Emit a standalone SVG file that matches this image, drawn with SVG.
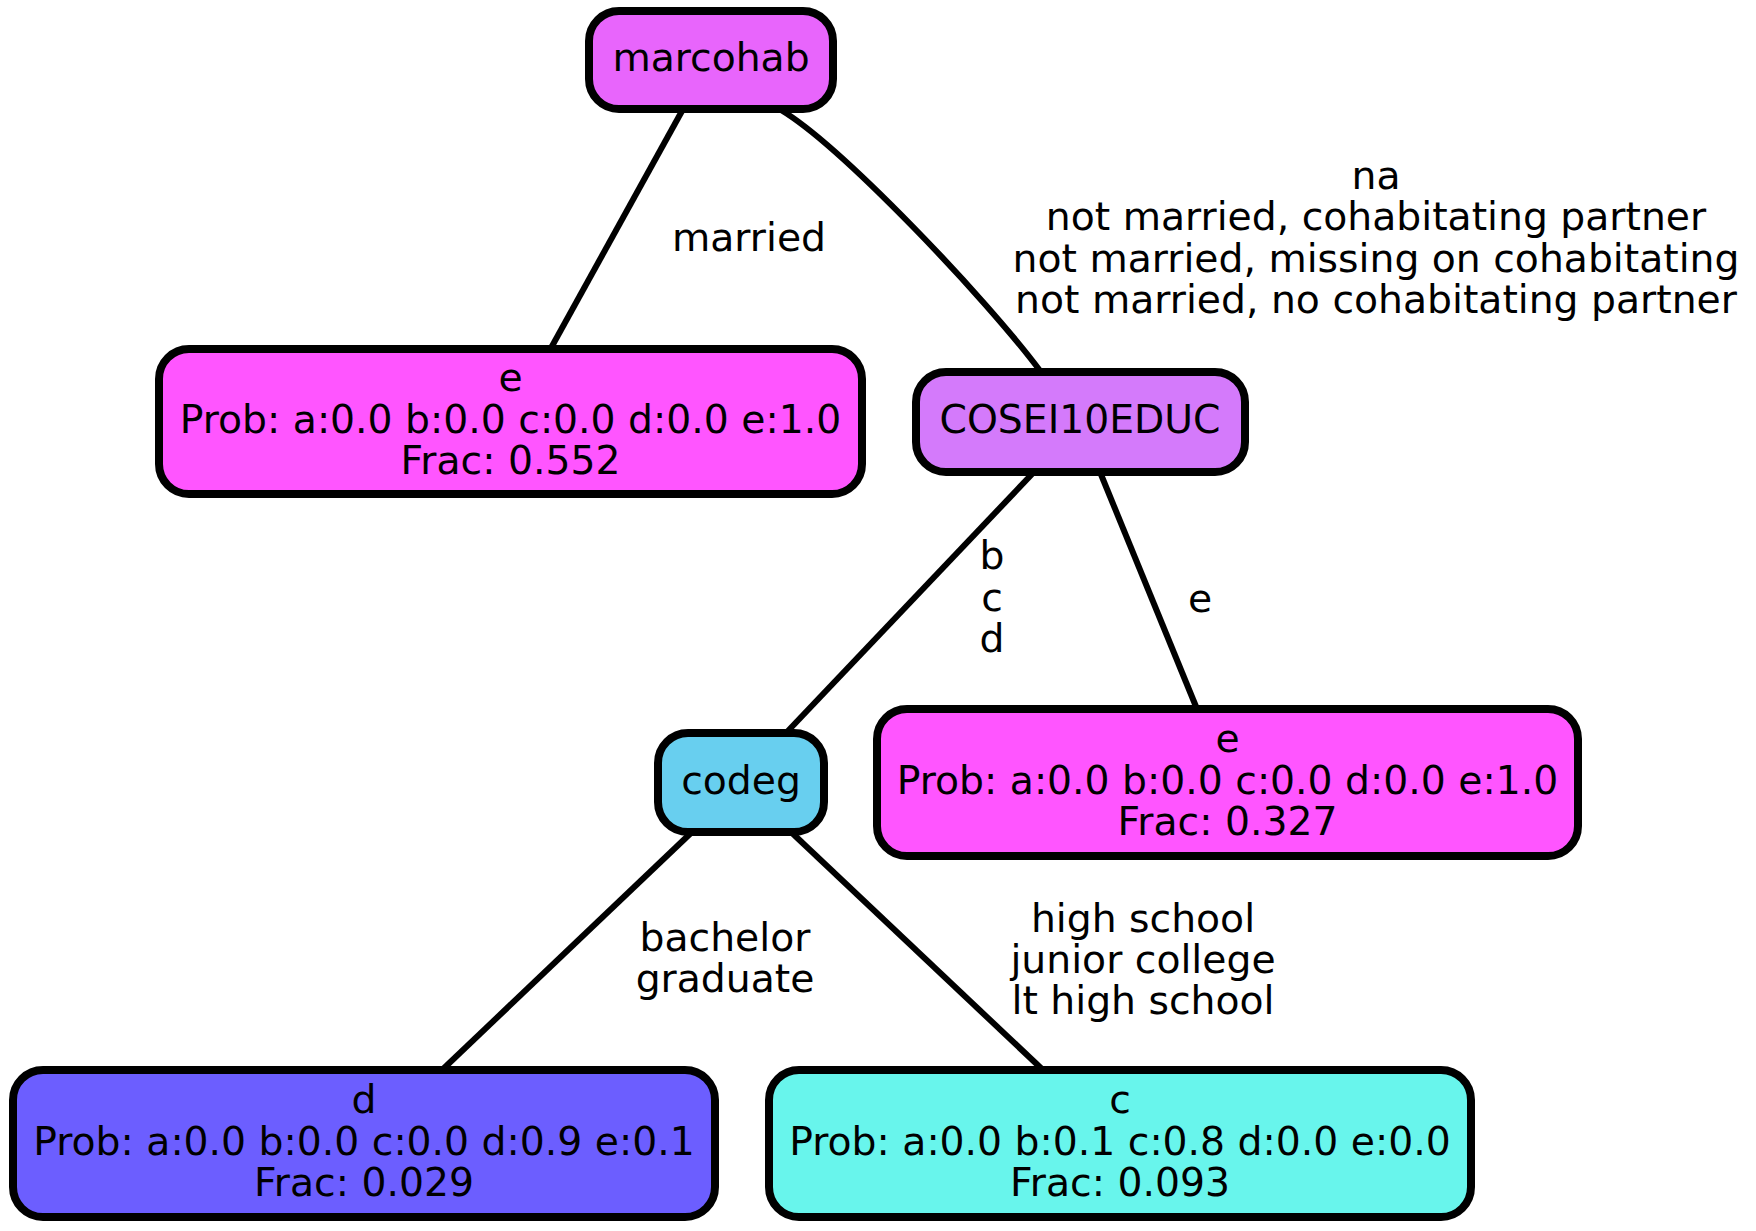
<svg xmlns="http://www.w3.org/2000/svg" width="1756" height="1231" viewBox="0 0 1756 1231">
<style>
.n{stroke:#000;stroke-width:8}
.e{fill:none;stroke:#000;stroke-width:6}
text{font-family:"DejaVu Sans",Verdana,sans-serif;font-size:39.3px;fill:#000;text-anchor:middle}
</style>
<rect width="1756" height="1231" fill="#fff"/>
<g id="edges">
<path class="e" d="M682,111 L551,348"/>
<path class="e" d="M781,110 C841,146 986,298 1041,372"/>
<path class="e" d="M1034,472 L786,733"/>
<path class="e" d="M1100,472 L1197,709"/>
<path class="e" d="M692,832 L442,1070"/>
<path class="e" d="M791,832 L1043,1070"/>
<text x="749" y="251">married</text>
<text x="1376" y="189">na</text>
<text x="1376" y="230">not married, cohabitating partner</text>
<text x="1376" y="272">not married, missing on cohabitating</text>
<text x="1376" y="313">not married, no cohabitating partner</text>
<text x="992" y="569">b</text>
<text x="992" y="611">c</text>
<text x="992" y="652">d</text>
<text x="1200" y="612">e</text>
<text x="725" y="951">bachelor</text>
<text x="725" y="992">graduate</text>
<text x="1143" y="932">high school</text>
<text x="1143" y="973">junior college</text>
<text x="1143" y="1014">lt high school</text>
</g>
<g id="marcohab">
<rect class="n" x="589" y="11" width="244" height="98" rx="30" fill="#E865FC"/>
<text x="711" y="71">marcohab</text>
</g>
<g id="leaf_e1">
<rect class="n" x="159" y="349" width="703" height="145" rx="30" fill="#FF55FF"/>
<text x="510.5" y="391">e</text>
<text x="510.5" y="433">Prob: a:0.0 b:0.0 c:0.0 d:0.0 e:1.0</text>
<text x="510.5" y="474">Frac: 0.552</text>
</g>
<g id="COSEI10EDUC">
<rect class="n" x="916" y="372" width="329" height="100" rx="30" fill="#D47AFB"/>
<text x="1080" y="433">COSEI10EDUC</text>
</g>
<g id="codeg">
<rect class="n" x="658" y="733" width="166" height="99" rx="30" fill="#68CFEF"/>
<text x="741" y="794">codeg</text>
</g>
<g id="leaf_e2">
<rect class="n" x="877" y="709" width="701" height="147" rx="30" fill="#FF55FF"/>
<text x="1227.5" y="752">e</text>
<text x="1227.5" y="794">Prob: a:0.0 b:0.0 c:0.0 d:0.0 e:1.0</text>
<text x="1227.5" y="835">Frac: 0.327</text>
</g>
<g id="leaf_d">
<rect class="n" x="13" y="1070" width="702" height="147" rx="30" fill="#6C5EFF"/>
<text x="364" y="1113">d</text>
<text x="364" y="1155">Prob: a:0.0 b:0.0 c:0.0 d:0.9 e:0.1</text>
<text x="364" y="1196">Frac: 0.029</text>
</g>
<g id="leaf_c">
<rect class="n" x="769" y="1070" width="702" height="147" rx="30" fill="#68F5EC"/>
<text x="1120" y="1113">c</text>
<text x="1120" y="1155">Prob: a:0.0 b:0.1 c:0.8 d:0.0 e:0.0</text>
<text x="1120" y="1196">Frac: 0.093</text>
</g>
</svg>
